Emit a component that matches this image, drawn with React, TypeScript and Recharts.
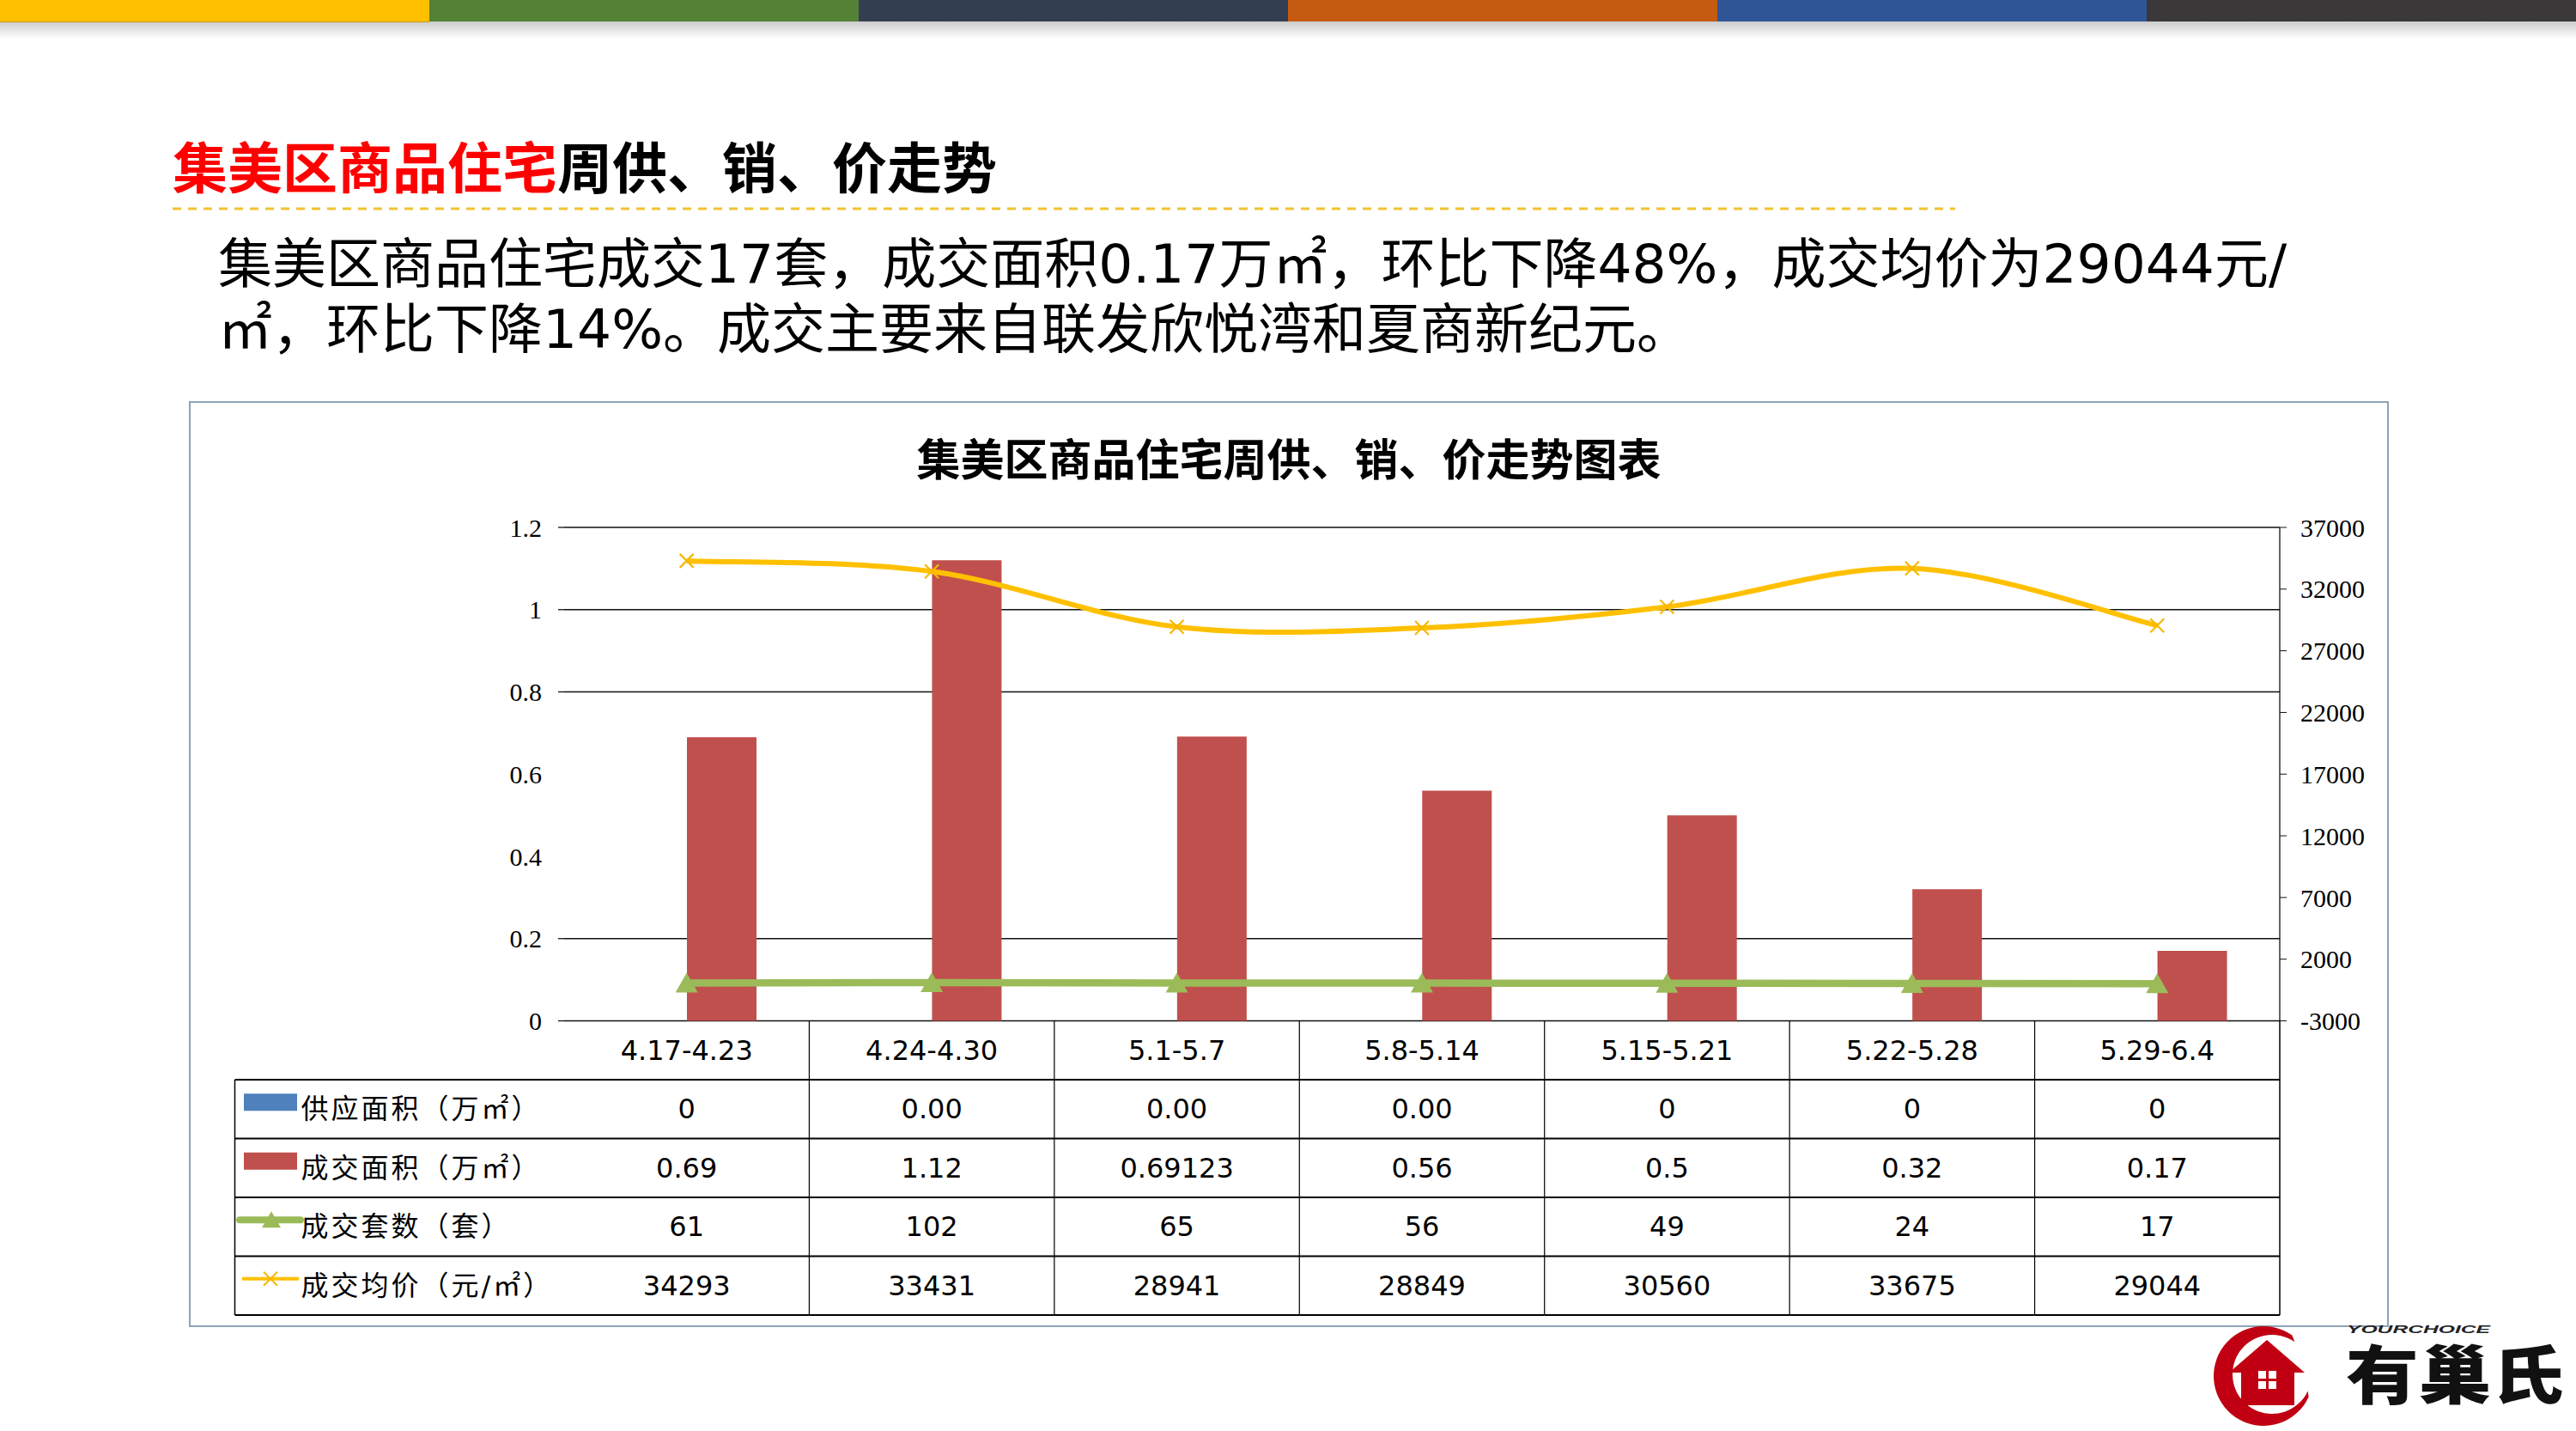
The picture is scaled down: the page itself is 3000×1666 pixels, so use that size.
import React from 'react';
import { ComposedChart, Bar, Line, XAxis, YAxis, CartesianGrid } from 'recharts';

// ---------- data ----------
const categories = ['4.17-4.23', '4.24-4.30', '5.1-5.7', '5.8-5.14', '5.15-5.21', '5.22-5.28', '5.29-6.4'];
const supplyArea = [0, 0, 0, 0, 0, 0, 0];
const supplyLabels = ['0', '0.00', '0.00', '0.00', '0', '0', '0'];
const dealArea = [0.69, 1.12, 0.69123, 0.56, 0.5, 0.32, 0.17];
const dealUnits = [61, 102, 65, 56, 49, 24, 17];
const avgPrice = [34293, 33431, 28941, 28849, 30560, 33675, 29044];
const leftTicks = [0, 0.2, 0.4, 0.6, 0.8, 1, 1.2];
const rightTicks = [-3000, 2000, 7000, 12000, 17000, 22000, 27000, 32000, 37000];
const gridValues = [0, 0.2, 0.8, 1, 1.2];
const seriesNames = ['供应面积（万㎡）', '成交面积（万㎡）', '成交套数（套）', '成交均价（元/㎡）'];
const stripeColors = ['#FFC000', '#538135', '#333F50', '#C55A11', '#2F5597', '#3A3838'];
const titleRed = '集美区商品住宅';
const titleBlack = '周供、销、价走势';
const paraLine1 = '集美区商品住宅成交17套，成交面积0.17万㎡，环比下降48%，成交均价为29044元/';
const paraLine2 = '㎡，环比下降14%。成交主要来自联发欣悦湾和夏商新纪元。';
const chartTitle = '集美区商品住宅周供、销、价走势图表';

const data = categories.map((name, i) => ({
  name,
  supply: supplyArea[i],
  area: dealArea[i],
  units: dealUnits[i],
  price: avgPrice[i],
}));

// ---------- styles ----------
const COLORS = { supply: '#4F81BD', area: '#C0504D', units: '#9BBB59', price: '#FFC000' };
const ROW_H = 68.5;
const LEGEND_W = 383.5;
const TABLE_FONT = '"DejaVu Sans", "Noto Sans CJK SC", sans-serif';
const AXIS_FONT = '"Liberation Serif", "DejaVu Serif", serif';
const CJK = '"Noto Sans CJK SC", sans-serif';

// Excel-like smoothed line (Catmull-Rom Bezier)
const excelSmooth: any = (context: any) => {
  let pts: number[][] = [];
  return {
    areaStart() {},
    areaEnd() {},
    lineStart() {
      pts = [];
    },
    point(x: number, y: number) {
      pts.push([+x, +y]);
    },
    lineEnd() {
      const n = pts.length;
      if (!n) return;
      context.moveTo(pts[0][0], pts[0][1]);
      for (let i = 0; i < n - 1; i++) {
        const p0 = pts[Math.max(i - 1, 0)];
        const p1 = pts[i];
        const p2 = pts[i + 1];
        const p3 = pts[Math.min(i + 2, n - 1)];
        context.bezierCurveTo(
          p1[0] + (p2[0] - p0[0]) / 6,
          p1[1] + (p2[1] - p0[1]) / 6,
          p2[0] - (p3[0] - p1[0]) / 6,
          p2[1] - (p3[1] - p1[1]) / 6,
          p2[0],
          p2[1]
        );
      }
    },
  };
};

function TriangleDot(props: any) {
  const { cx, cy } = props;
  if (cx == null || cy == null) return <g />;
  return <polygon points={`${cx},${cy - 12} ${cx + 13},${cy + 11} ${cx - 13},${cy + 11}`} fill={COLORS.units} />;
}

function CrossDot(props: any) {
  const { cx, cy } = props;
  if (cx == null || cy == null) return <g />;
  const s = 8;
  return (
    <path
      d={`M${cx - s},${cy - s}L${cx + s},${cy + s}M${cx + s},${cy - s}L${cx - s},${cy + s}`}
      stroke="#F5B800"
      strokeWidth={2.2}
      fill="none"
    />
  );
}

function LeftTick(props: any) {
  const { x, y, payload } = props;
  const v = payload.value;
  return (
    <g>
      <text x={x} y={y} textAnchor="end" dominantBaseline="central" fontSize={30} fontFamily={AXIS_FONT} fill="#000">
        {String(v)}
      </text>
      {gridValues.indexOf(v) >= 0 && <line x1={x + 19} x2={x + 26} y1={y} y2={y} stroke="#111" strokeWidth={1.3} />}
    </g>
  );
}

function LegendKey({ kind, cx, cy }: { kind: number; cx: number; cy: number }) {
  if (kind === 0 || kind === 1) {
    return <rect x={cx - 31} y={cy - 10} width={62} height={20} fill={kind === 0 ? COLORS.supply : COLORS.area} />;
  }
  if (kind === 2) {
    return (
      <g>
        <line x1={cx - 36} x2={cx + 35} y1={cy} y2={cy} stroke={COLORS.units} strokeWidth={8} strokeLinecap="round" />
        <polygon points={`${cx + 1},${cy - 10} ${cx + 12},${cy + 9} ${cx - 10},${cy + 9}`} fill={COLORS.units} />
      </g>
    );
  }
  const s = 8;
  return (
    <g>
      <line x1={cx - 33} x2={cx + 33} y1={cy} y2={cy} stroke={COLORS.price} strokeWidth={4} />
      <path
        d={`M${cx - s},${cy - s}L${cx + s},${cy + s}M${cx + s},${cy - s}L${cx - s},${cy + s}`}
        stroke="#F5B800"
        strokeWidth={2}
        fill="none"
      />
    </g>
  );
}

function TableTick(props: any) {
  const { x, y, payload, width, visibleTicksCount } = props;
  const n = categories.length;
  const i: number = payload && payload.index != null ? payload.index : props.index || 0;
  const half =
    payload && typeof payload.offset === 'number' && payload.offset > 0
      ? payload.offset
      : width / (2 * (visibleTicksCount || n));
  const left = x - half;
  const right = x + half;
  const cells = [categories[i], supplyLabels[i], String(dealArea[i]), String(dealUnits[i]), String(avgPrice[i])];
  const bottom = y + ROW_H * cells.length;
  const x0 = left - LEGEND_W;
  return (
    <g>
      {cells.map((c, r) => (
        <text
          key={'t' + r}
          x={x}
          y={y + ROW_H * (r + 0.5)}
          textAnchor="middle"
          dominantBaseline="central"
          fontSize={32}
          fontFamily={TABLE_FONT}
          fill="#000"
        >
          {c}
        </text>
      ))}
      {[1, 2, 3, 4, 5].map((r) => (
        <line key={'h' + r} x1={left} x2={right} y1={y + ROW_H * r} y2={y + ROW_H * r} stroke="#000" strokeWidth={2} />
      ))}
      {i > 0 && <line x1={left} x2={left} y1={y} y2={bottom} stroke="#000" strokeWidth={1.2} />}
      {i === n - 1 && <line x1={right} x2={right} y1={y} y2={bottom} stroke="#000" strokeWidth={1.5} />}
      {i === 0 && (
        <g>
          {[1, 2, 3, 4, 5].map((r) => (
            <line key={'lh' + r} x1={x0} x2={left} y1={y + ROW_H * r} y2={y + ROW_H * r} stroke="#000" strokeWidth={2} />
          ))}
          <line x1={x0} x2={x0} y1={y + ROW_H} y2={bottom} stroke="#000" strokeWidth={1.5} />
          {seriesNames.map((s, k) => {
            const cy = y + ROW_H * (k + 1.5);
            return (
              <g key={'lg' + k}>
                <LegendKey kind={k} cx={x0 + 41.5} cy={cy - 8} />
                <text
                  x={x0 + 77}
                  y={cy}
                  dominantBaseline="central"
                  fontSize={32}
                  fontFamily={TABLE_FONT}
                  fill="#000"
                  style={{ letterSpacing: '3px' }}
                >
                  {s}
                </text>
              </g>
            );
          })}
        </g>
      )}
    </g>
  );
}

function Logo() {
  const red = '#C00012';
  return (
    <svg style={{ position: 'absolute', left: 2560, top: 1510 }} width={440} height={156}>
      <g transform="translate(0,30)">
        <path d="M109.3,14.5 A58,58 0 1 0 128.6,86.5 L127.7,79.4 A46,46 0 1 1 112.4,22.3 Z" fill={red} />
        <path d="M36,58 L80,20 L124,58 L112,58 L112,96 L50,96 L50,58 Z" fill={red} />
        <rect x={70} y={56} width={9} height={9} fill="#fff" />
        <rect x={82} y={56} width={9} height={9} fill="#fff" />
        <rect x={70} y={68} width={9} height={9} fill="#fff" />
        <rect x={82} y={68} width={9} height={9} fill="#fff" />
        <text
          x={173}
          y={12}
          fontSize={12}
          fontStyle="italic"
          fontWeight={700}
          fontFamily='"Liberation Sans", sans-serif'
          fill="#222"
          textLength={167}
          lengthAdjust="spacingAndGlyphs"
        >
          YOURCHOICE
        </text>
        <text
          x={172}
          y={88}
          fontSize={74}
          fontWeight={900}
          fontFamily='"DejaVu Sans", "Noto Sans CJK SC", sans-serif'
          fill="#111"
          textLength={254}
          lengthAdjust="spacingAndGlyphs"
        >
          有巢氏
        </text>
      </g>
    </svg>
  );
}

export default function App() {
  return (
    <div
      style={{
        position: 'fixed',
        left: 0,
        top: 0,
        width: 3000,
        height: 1666,
        background: '#fff',
        overflow: 'hidden',
        fontFamily: CJK,
      }}
    >
      {stripeColors.map((c, i) => (
        <div key={'s' + i} style={{ position: 'absolute', left: i * 500, top: 0, width: 500, height: i === 0 ? 26 : 25, background: c }} />
      ))}
      <div
        style={{
          position: 'absolute',
          left: 0,
          top: 25,
          width: 3000,
          height: 20,
          background: 'linear-gradient(to bottom, rgba(0,0,0,0.2), rgba(0,0,0,0))',
        }}
      />

      {/* page title */}
      <div
        style={{
          position: 'absolute',
          left: 201,
          top: 159,
          fontSize: 64,
          lineHeight: '64px',
          fontWeight: 700,
          whiteSpace: 'nowrap',
          color: '#000',
        }}
      >
        <span style={{ color: '#FF0000' }}>{titleRed}</span>
        {titleBlack}
      </div>
      <svg style={{ position: 'absolute', left: 201, top: 238 }} width={2080} height={10}>
        <line x1={0} x2={2076} y1={5} y2={5} stroke="#F2C230" strokeWidth={3} strokeDasharray="10 8" />
      </svg>

      {/* paragraph */}
      <div
        style={{
          position: 'absolute',
          left: 254,
          top: 276,
          fontSize: 63,
          lineHeight: '63px',
          whiteSpace: 'nowrap',
          fontFamily: TABLE_FONT,
          color: '#000',
        }}
      >
        {paraLine1}
      </div>
      <div
        style={{
          position: 'absolute',
          left: 254,
          top: 352,
          fontSize: 63,
          lineHeight: '63px',
          whiteSpace: 'nowrap',
          fontFamily: TABLE_FONT,
          color: '#000',
        }}
      >
        {paraLine2}
      </div>

      {/* chart */}
      <div style={{ position: 'absolute', left: 220, top: 467, width: 2562, height: 1078 }}>
        <ComposedChart
          width={2562}
          height={1078}
          data={data}
          margin={{ top: 147, right: 0, bottom: 14, left: 0 }}
          barGap={0}
        >
          <CartesianGrid
            yAxisId="left"
            vertical={false}
            horizontalValues={gridValues}
            stroke="#111"
            strokeWidth={1.3}
          />
          <XAxis
            dataKey="name"
            interval={0}
            height={342.5}
            tickSize={0}
            tickMargin={0}
            axisLine={false}
            tickLine={false}
            tick={(p: any) => <TableTick {...p} />}
          />
          <YAxis
            yAxisId="left"
            domain={[0, 1.2]}
            ticks={leftTicks}
            interval={0}
            width={437}
            axisLine={false}
            tickLine={false}
            tickSize={7}
            tickMargin={19}
            tick={(p: any) => <LeftTick {...p} />}
          />
          <YAxis
            yAxisId="right"
            orientation="right"
            domain={[-3000, 37000]}
            ticks={rightTicks}
            interval={0}
            width={127}
            axisLine={{ stroke: '#111', strokeWidth: 1.3 }}
            tickLine={{ stroke: '#111' }}
            tickSize={8}
            tickMargin={16}
            tick={{ fill: '#000', fontSize: 30, fontFamily: AXIS_FONT }}
          />
          <Bar yAxisId="left" dataKey="supply" fill={COLORS.supply} barSize={81} isAnimationActive={false} />
          <Bar yAxisId="left" dataKey="area" fill={COLORS.area} barSize={81} isAnimationActive={false} />
          <Line
            yAxisId="right"
            dataKey="units"
            type="linear"
            stroke={COLORS.units}
            strokeWidth={8.5}
            dot={(p: any) => <TriangleDot key={'tri' + p.index} {...p} />}
            activeDot={false}
            isAnimationActive={false}
          />
          <Line
            yAxisId="right"
            dataKey="price"
            type={excelSmooth}
            stroke={COLORS.price}
            strokeWidth={6}
            dot={(p: any) => <CrossDot key={'x' + p.index} {...p} />}
            activeDot={false}
            isAnimationActive={false}
          />
        </ComposedChart>
      </div>

      {/* chart title */}
      <div
        style={{
          position: 'absolute',
          left: 220,
          width: 2562,
          top: 507,
          textAlign: 'center',
          fontSize: 51,
          lineHeight: '51px',
          fontWeight: 700,
          color: '#000',
          whiteSpace: 'nowrap',
        }}
      >
        {chartTitle}
      </div>

      {/* chart border */}
      <div
        style={{
          position: 'absolute',
          left: 220,
          top: 467,
          width: 2562,
          height: 1078,
          border: '2px solid #8DA2B8',
          boxSizing: 'border-box',
          pointerEvents: 'none',
        }}
      />

      <Logo />
    </div>
  );
}
